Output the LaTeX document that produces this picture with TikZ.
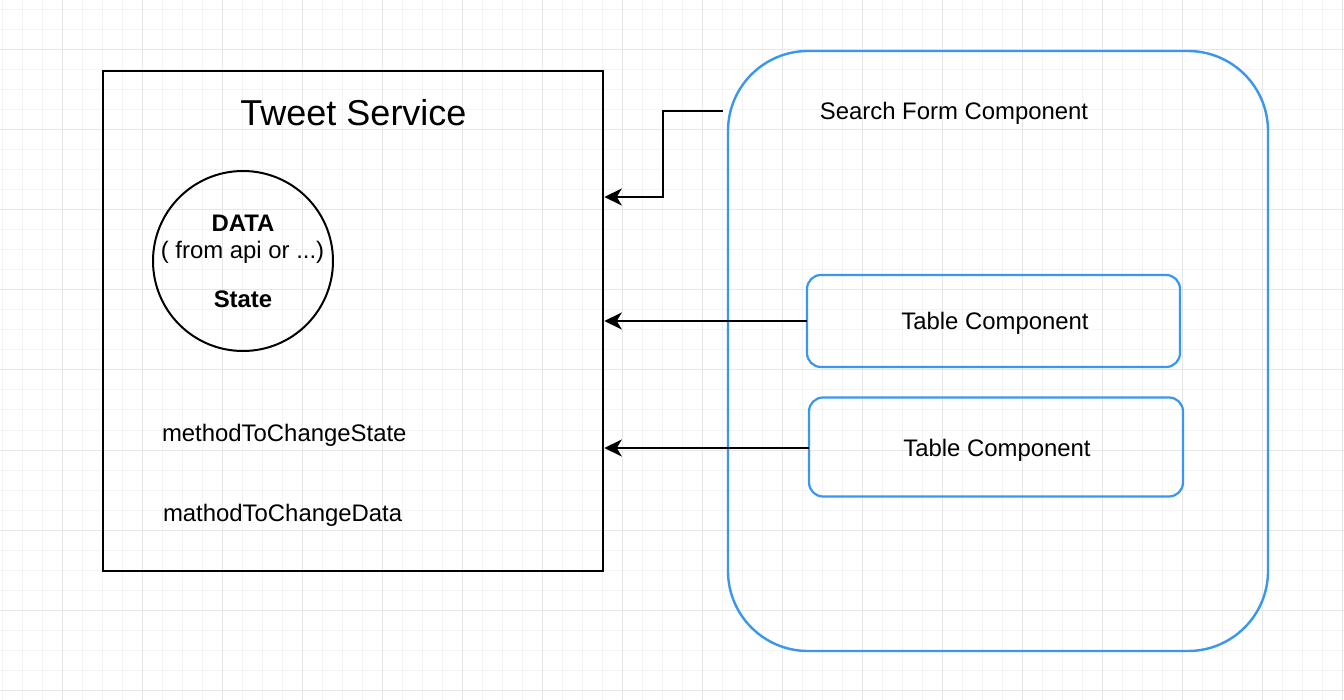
\documentclass[tikz,border=0pt]{standalone}
\usepackage{fontspec}
\setmainfont{Liberation Sans}
\usetikzlibrary{arrows.meta}
\definecolor{gridminor}{HTML}{F3F3F3}
\definecolor{gridmajor}{HTML}{E6E6E6}
\definecolor{compblue}{HTML}{3A97F0}
\tikzset{
  txt/.style={inner sep=0pt, outer sep=0pt, font=\fontsize{23.9}{28}\selectfont, anchor=base},
  txtb/.style={txt, font=\fontsize{23.9}{28}\selectfont\bfseries},
  title/.style={inner sep=0pt, outer sep=0pt, font=\fontsize{36}{42}\selectfont, anchor=base},
  svcbox/.style={draw=black, line width=2.6pt, minimum width=500pt, minimum height=500pt, inner sep=0pt, outer sep=0pt},
  datacircle/.style={draw=black, circle, line width=2pt, minimum size=180pt, inner sep=0pt, outer sep=0pt},
  compbox/.style={draw=compblue, line width=2.4pt, rounded corners=80pt, minimum width=540pt, minimum height=600pt, inner sep=0pt, outer sep=0pt},
  tablebox/.style={draw=compblue, line width=2.2pt, rounded corners=14pt, inner sep=0pt, outer sep=0pt},
  conn/.style={draw=black, line width=2pt, -{Stealth[length=17.5pt, width=17pt, inset=5pt]}}
}
\begin{document}
\begin{tikzpicture}[x=1pt, y=-1pt]
\useasboundingbox (0,0) rectangle (1344,700);
\fill[white] (0,0) rectangle (1344,700);
% grid
\foreach \gx in {2,22,...,1342} \draw[gridminor, line width=1pt] (\gx,0) -- (\gx,700);
\foreach \gy in {10,30,...,690} \draw[gridminor, line width=1pt] (0,\gy) -- (1344,\gy);
\foreach \gx in {62,142,...,1342} \draw[gridmajor, line width=1pt] (\gx,0) -- (\gx,700);
\foreach \gy in {50,130,...,690} \draw[gridmajor, line width=1pt] (0,\gy) -- (1344,\gy);

% Tweet service
\node[svcbox] (svc) at (353,321) {};
\node[title] (svctitle) at (353.5,126) {Tweet Service};
\node[datacircle] (data) at (243,261) {};
\node[txtb] (datalbl) at (243,231.7) {DATA};
\node[txt] (fromapi) at (242.5,259) {( from api or ...)};
\node[txtb] (statelbl) at (243,307.7) {State};
\node[txt, anchor=base west] (m1) at (162,441) {methodToChangeState};
\node[txt, anchor=base west] (m2) at (163,521) {mathodToChangeData};

% components
\node[compbox] (comp) at (998,351) {};
\node[txt] (search) at (954,119.3) {Search Form Component};
\coordinate (searchout) at (722.5,111);
\node[tablebox, minimum width=373pt, minimum height=92pt] (tab1) at (993.5,321) {};
\node[txt] (tab1lbl) at (995,330) {Table Component};
\node[tablebox, minimum width=374pt, minimum height=99pt] (tab2) at (996,447) {};
\node[txt] (tab2lbl) at (997,456) {Table Component};

% connectors
\coordinate (t0) at (svc.east |- 0,197);
\draw[conn] (searchout) -- (662.5,111) -- (662.5,197) -- ([xshift=1.3pt]t0);
\draw[conn] (tab1.west) -- ([xshift=1.3pt]svc.east |- tab1.west);
\draw[conn] (tab2.west |- 0,448) -- ([xshift=1.3pt]svc.east |- 0,448);
\end{tikzpicture}
\end{document}
